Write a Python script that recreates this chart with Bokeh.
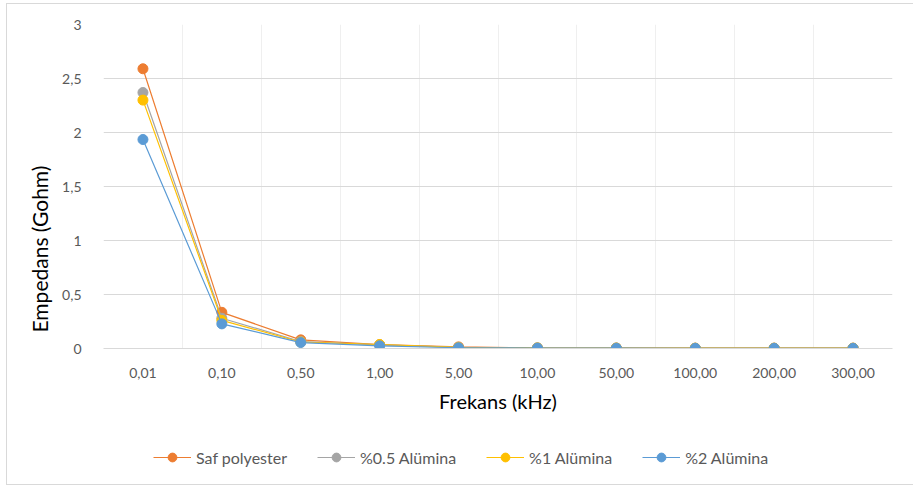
from bokeh.plotting import figure
from bokeh.layouts import column
from bokeh.models import FixedTicker, Legend, LegendItem, Range1d, Title
from bokeh.embed import file_html
from bokeh.resources import INLINE

categories = ["0,01", "0,10", "0,50", "1,00", "5,00", "10,00", "50,00", "100,00", "200,00", "300,00"]
saf = [2.59, 0.335, 0.08, 0.035, 0.015, 0.005, 0.004, 0.003, 0.003, 0.003]
al05 = [2.37, 0.28, 0.065, 0.033, 0.01, 0.005, 0.004, 0.003, 0.003, 0.003]
al1 = [2.30, 0.26, 0.06, 0.037, 0.01, 0.005, 0.004, 0.003, 0.003, 0.003]
al2 = [1.935, 0.228, 0.055, 0.025, 0.007, 0.004, 0.003, 0.002, 0.002, 0.002]
series_names = ["Saf polyester", "%0.5 Alümina", "%1 Alümina", "%2 Alümina"]
colors = ["#ED7D31", "#A5A5A5", "#FFC000", "#5B9BD5"]
y_ticks = [0, 0.5, 1, 1.5, 2, 2.5, 3]
y_tick_labels = ["0", "0,5", "1", "1,5", "2", "2,5", "3"]

FONT = "Lato"
xs = list(range(len(categories)))
series = [saf, al05, al1, al2]

p = figure(width=906, height=440, output_backend="svg", toolbar_location=None,
           x_range=Range1d(-0.5, len(categories) - 0.5), y_range=Range1d(0, 3),
           min_border_left=96, min_border_right=21, min_border_top=20, min_border_bottom=96)
p.outline_line_color = None
p.background_fill_color = "white"
p.border_fill_color = "white"

# axes
p.xaxis.ticker = FixedTicker(ticks=xs)
p.xaxis.major_label_overrides = {i: c for i, c in enumerate(categories)}
p.yaxis.ticker = FixedTicker(ticks=y_ticks)
p.yaxis.major_label_overrides = {t: l for t, l in zip(y_ticks, y_tick_labels)}
for ax in (p.xaxis, p.yaxis):
    ax.major_tick_line_color = None
    ax.minor_tick_line_color = None
    ax.major_label_text_font = FONT
    ax.major_label_text_font_size = "14px"
    ax.major_label_text_color = "#595959"
    ax.axis_label_text_font = FONT
    ax.axis_label_text_font_size = "20px"
    ax.axis_label_text_font_style = "normal"
    ax.axis_label_text_color = "#000000"
p.yaxis.axis_line_color = None
p.xaxis.axis_line_color = "#D9D9D9"
p.xaxis.axis_label = "Frekans (kHz)"
p.xaxis.major_label_standoff = 13
p.xaxis.axis_label_standoff = 8
p.yaxis.major_label_standoff = 16

ytitle = Title(text="Empedans (Gohm)", align="left", offset=16, standoff=16,
               text_font=FONT, text_font_size="21px", text_font_style="normal",
               text_color="#000000")
p.add_layout(ytitle, "left")

# grids
p.ygrid.ticker = FixedTicker(ticks=y_ticks)
p.ygrid.grid_line_color = "#D9D9D9"
p.xgrid.ticker = FixedTicker(ticks=[i - 0.5 for i in range(len(categories) + 1)])
p.xgrid.grid_line_color = "#EFEFEF"

for vals, col in zip(series, colors):
    p.line(xs, vals, line_color=col, line_width=1.2)
    p.scatter(xs, vals, size=10, fill_color=col, line_color=col)

# legend strip below the chart (series drawn out of view, only the legend shows)
p2 = figure(width=906, height=40, output_backend="svg", toolbar_location=None,
            x_range=Range1d(-100, -99), y_range=Range1d(-100, -99),
            x_axis_location=None, y_axis_location=None,
            min_border_left=0, min_border_right=0, min_border_top=0, min_border_bottom=0)
p2.outline_line_color = None
p2.grid.visible = False
items = []
for name, vals, col in zip(series_names, series, colors):
    r1 = p2.line(xs, vals, line_color=col, line_width=1.2)
    r2 = p2.scatter(xs, vals, size=10, fill_color=col, line_color=col)
    items.append(LegendItem(label=name, renderers=[r1, r2]))
legend = Legend(items=items, orientation="horizontal", location=(50, 16),
                label_text_font=FONT, label_text_font_size="16px", label_text_color="#595959",
                glyph_width=38, glyph_height=22, label_standoff=5, spacing=30,
                border_line_color=None, background_fill_alpha=0, margin=0, padding=0)
p2.add_layout(legend, "center")

layout = column(p, p2, spacing=0)
layout.styles = {"margin-left": "6px", "margin-top": "3px",
                 "border-left": "1px solid #D9D9D9", "border-top": "1px solid #D9D9D9",
                 "border-bottom": "1px solid #D9D9D9"}

open("out.html", "w").write(file_html(layout, INLINE))
